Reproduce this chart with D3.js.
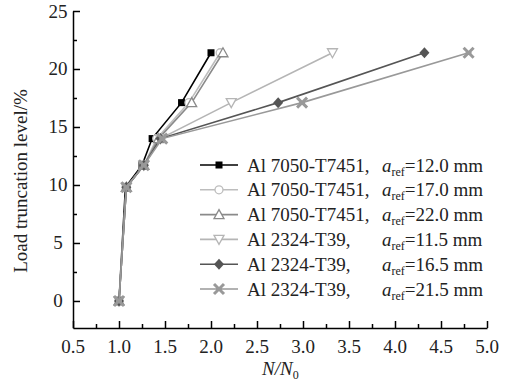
<!DOCTYPE html>
<html>
<head>
<meta charset="utf-8">
<script src="https://cdn.jsdelivr.net/npm/d3@7/dist/d3.min.js"></script>
<style>
  body { margin: 0; background: #fff; }
  text { font-family: "Liberation Serif", "Times New Roman", serif; fill: #222; }
</style>
</head>
<body>
<div id="chart"></div>
<script>
var w = 512, h = 386;

// y levels shared by all series
var levels = [0, 9.8, 11.7, 14.0, 17.1, 21.4];

// N/N0 values per series
var s7050_12 = [1.0, 1.07, 1.25, 1.36, 1.68, 2.0];
var s7050_17 = [1.0, 1.08, 1.27, 1.41, 1.76, 2.10];
var s7050_22 = [1.0, 1.08, 1.27, 1.43, 1.79, 2.13];
var s2324_115 = [1.0, 1.08, 1.27, 1.45, 2.22, 3.32];
var s2324_165 = [1.0, 1.08, 1.27, 1.45, 2.73, 4.32];
var s2324_215 = [1.0, 1.08, 1.27, 1.47, 2.99, 4.80];

var labelsAlloy = ["Al 7050-T7451,", "Al 7050-T7451,", "Al 7050-T7451,", "Al 2324-T39,", "Al 2324-T39,", "Al 2324-T39,"];
var labelsRef = ["=12.0 mm", "=17.0 mm", "=22.0 mm", "=11.5 mm", "=16.5 mm", "=21.5 mm"];

var xTicks = [0.5, 1.0, 1.5, 2.0, 2.5, 3.0, 3.5, 4.0, 4.5, 5.0];
var yTicks = [0, 5, 10, 15, 20, 25];

var series = [
  { x: s7050_12, color: "#000", marker: "square" },
  { x: s7050_17, color: "#bdbdbd", marker: "circle" },
  { x: s7050_22, color: "#8a8a8a", marker: "triUp" },
  { x: s2324_115, color: "#b5b5b5", marker: "triDown" },
  { x: s2324_165, color: "#555", marker: "diamond" },
  { x: s2324_215, color: "#999", marker: "cross" }
];

var fs = 19; // font size

var xScale = d3.scaleLinear().domain([0.5, 5.0]).range([73, 487]);
var yScale = d3.scaleLinear().domain([-2.33, 25]).range([328, 11]);

var svg = d3.select("#chart").append("svg").attr("width", w).attr("height", h);

function drawMarker(g, type, color) {
  if (type === "square") {
    g.append("rect").attr("x", -3.5).attr("y", -3.5).attr("width", 7).attr("height", 7).attr("fill", color);
  } else if (type === "circle") {
    g.append("circle").attr("r", 4).attr("fill", "#fff").attr("stroke", color).attr("stroke-width", 1.3);
  } else if (type === "triUp") {
    g.append("path").attr("d", "M0,-5L5,4L-5,4Z").attr("fill", "#fff").attr("stroke", color).attr("stroke-width", 1.3);
  } else if (type === "triDown") {
    g.append("path").attr("d", "M0,5L5,-4L-5,-4Z").attr("fill", "#fff").attr("stroke", color).attr("stroke-width", 1.3);
  } else if (type === "diamond") {
    g.append("path").attr("d", "M0,-5.5L5,0L0,5.5L-5,0Z").attr("fill", color);
  } else if (type === "cross") {
    g.append("path").attr("d", "M-5,-5L5,5M-5,5L5,-5M-3,0L3,0").attr("stroke", color).attr("stroke-width", 3);
  }
}

var line = d3.line()
  .x(function(d) { return xScale(d[0]); })
  .y(function(d) { return yScale(d[1]); });

series.forEach(function(s) {
  var pts = s.x.map(function(v, i) { return [v, levels[i]]; });
  svg.append("path").datum(pts)
    .attr("d", line)
    .attr("fill", "none")
    .attr("stroke", s.color)
    .attr("stroke-width", 1.6);
  pts.forEach(function(p) {
    var g = svg.append("g").attr("transform", "translate(" + xScale(p[0]) + "," + yScale(p[1]) + ")");
    drawMarker(g, s.marker, s.color);
  });
});

// axes
var xAxis = svg.append("g").attr("transform", "translate(0,328)");
xAxis.call(d3.axisBottom(xScale).tickValues(d3.range(0.5, 5.01, 0.25)).tickSize(0).tickFormat(""));
xAxis.select(".domain").attr("stroke", "#000").attr("stroke-width", 1.5);
xAxis.selectAll(".tick").each(function(d) {
  var major = Math.abs(d * 2 - Math.round(d * 2)) < 1e-6;
  d3.select(this).append("line").attr("y1", 0).attr("y2", major ? -7 : -4).attr("stroke", "#000").attr("stroke-width", 1.5);
});
xTicks.forEach(function(v) {
  svg.append("text").attr("x", xScale(v)).attr("y", 353)
    .attr("text-anchor", "middle").attr("font-size", fs).text(v.toFixed(1));
});

var yAxis = svg.append("g").attr("transform", "translate(73,0)");
yAxis.call(d3.axisLeft(yScale).tickValues(d3.range(0, 25.01, 2.5)).tickSize(0).tickFormat(""));
yAxis.select(".domain").attr("stroke", "#000").attr("stroke-width", 1.5);
yAxis.selectAll(".tick").each(function(d) {
  var major = Math.abs(d / 5 - Math.round(d / 5)) < 1e-6;
  d3.select(this).append("line").attr("x1", 0).attr("x2", major ? 7 : 4).attr("stroke", "#000").attr("stroke-width", 1.5);
});
yTicks.forEach(function(v) {
  svg.append("text").attr("x", 58).attr("y", yScale(v) + 6.5)
    .attr("text-anchor", "middle").attr("font-size", fs).text(v);
});

// axis titles
svg.append("text").attr("transform", "translate(27,181) rotate(-90)")
  .attr("text-anchor", "middle").attr("font-size", fs).text("Load truncation level/%");

var xl = svg.append("text").attr("x", 262).attr("y", 375).attr("font-size", fs);
xl.append("tspan").attr("font-style", "italic").text("N/N");
xl.append("tspan").attr("font-size", 12).attr("dy", 4).text("0");

// legend
series.forEach(function(s, i) {
  var y = 165 + i * 24.8;
  svg.append("line").attr("x1", 200).attr("x2", 238).attr("y1", y).attr("y2", y)
    .attr("stroke", s.color).attr("stroke-width", 1.6);
  var g = svg.append("g").attr("transform", "translate(219," + y + ")");
  drawMarker(g, s.marker, s.color);
  svg.append("text").attr("x", 247).attr("y", y + 6.5).attr("font-size", fs).text(labelsAlloy[i]);
  var t = svg.append("text").attr("x", 382).attr("y", y + 6.5).attr("font-size", fs);
  t.append("tspan").attr("font-style", "italic").text("a");
  t.append("tspan").attr("font-size", 12).attr("dy", 4).text("ref");
  t.append("tspan").attr("dy", -4).text(labelsRef[i]);
});
</script>
</body>
</html>
